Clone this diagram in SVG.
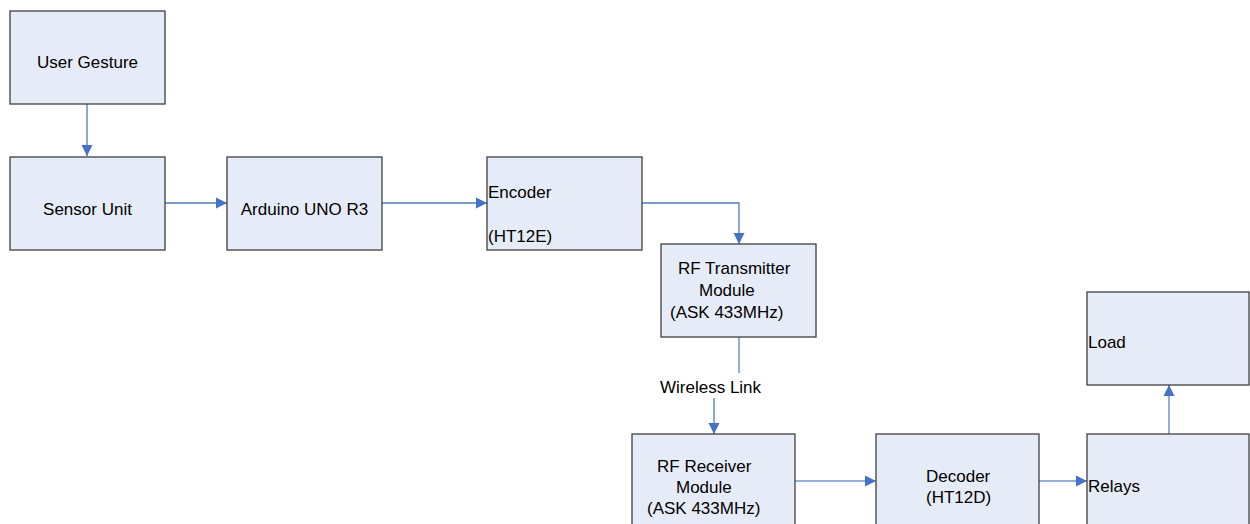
<svg xmlns="http://www.w3.org/2000/svg" width="1250" height="524" viewBox="0 0 1250 524">
<defs>
<style>
.box{fill:#E6ECF7;stroke:#404040;stroke-width:1.3}
.t{font-family:"Liberation Sans",Arial,sans-serif;font-size:17px;fill:#000}
.c{text-anchor:middle}
.ln{fill:none;stroke:#4A7EBB;stroke-width:1.3}
.lt{fill:none;stroke:#8FB1DC;stroke-width:2}
</style>
<marker id="ah" markerUnits="userSpaceOnUse" markerWidth="12" markerHeight="12" viewBox="0 0 12 12" refX="11" refY="6" orient="auto">
<path d="M0,0.5 L11,6 L0,11.5 Z" fill="#4472C4"/>
</marker>
</defs>
<rect width="1250" height="524" fill="#fff"/>
<g id="connectors">
<path class="ln" d="M87,104 V156" marker-end="url(#ah)"/>
<path class="ln" d="M165,203 H227" marker-end="url(#ah)"/>
<path class="ln" d="M382,203 H487" marker-end="url(#ah)"/>
<path class="ln" d="M642,203 H739 V244" marker-end="url(#ah)"/>
<path class="lt" d="M739,337 V373"/>
<path class="ln" d="M714,398 V434" marker-end="url(#ah)"/>
<path class="lt" d="M795,481 H866"/>
<path class="ln" d="M866,481 H876" marker-end="url(#ah)"/>
<path class="lt" d="M1039,481 H1078"/>
<path class="ln" d="M1078,481 H1087" marker-end="url(#ah)"/>
<path class="lt" d="M1169,434 V395"/>
<path class="ln" d="M1169,395 V385" marker-end="url(#ah)"/>
<text class="t" x="660" y="393">Wireless Link</text>
</g>
<g id="user-gesture"><rect class="box" x="10" y="11" width="155" height="93"/><text class="t c" x="87.5" y="68">User Gesture</text></g>
<g id="sensor-unit"><rect class="box" x="10" y="157" width="155" height="93"/><text class="t c" x="87.5" y="215">Sensor Unit</text></g>
<g id="arduino"><rect class="box" x="227" y="157" width="155" height="93"/><text class="t c" x="304.5" y="215">Arduino UNO R3</text></g>
<g id="encoder"><rect class="box" x="487" y="157" width="155" height="93"/><text class="t" x="488" y="198">Encoder</text><text class="t" x="488" y="242">(HT12E)</text></g>
<g id="rf-transmitter"><rect class="box" x="661" y="244" width="155" height="93"/><text class="t" x="678" y="274">RF Transmitter</text><text class="t" x="699" y="296">Module</text><text class="t" x="670" y="318">(ASK 433MHz)</text></g>
<g id="rf-receiver"><rect class="box" x="632" y="434" width="163" height="100"/><text class="t" x="657" y="472">RF Receiver</text><text class="t" x="676" y="493">Module</text><text class="t" x="647" y="514">(ASK 433MHz)</text></g>
<g id="decoder"><rect class="box" x="876" y="434" width="163" height="100"/><text class="t" x="926" y="482">Decoder</text><text class="t" x="926" y="503">(HT12D)</text></g>
<g id="relays"><rect class="box" x="1087" y="434" width="162" height="100"/><text class="t" x="1088" y="492">Relays</text></g>
<g id="load"><rect class="box" x="1087" y="292" width="162" height="93"/><text class="t" x="1088" y="348">Load</text></g>
</svg>
